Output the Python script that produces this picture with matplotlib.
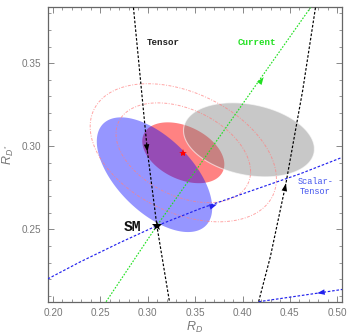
import numpy as np
import matplotlib.pyplot as plt

plt.rcParams['font.family'] = ['Liberation Sans', 'DejaVu Sans']
plt.rcParams['mathtext.fontset'] = 'custom'
plt.rcParams['mathtext.it'] = 'Liberation Sans:italic'
plt.rcParams['mathtext.rm'] = 'Liberation Sans'

# ellipses: centre RD, centre RD*, half width, half height, correlation
blue_ell = [0.3071, 0.2829, 0.0609, 0.0345, -0.58]
red_ell = [0.3375, 0.2961, 0.0433, 0.0183, -0.38]
gray_ell = [0.4068, 0.3039, 0.0691, 0.0223, -0.25]
contour_scales = [1.64, 2.27]

sm_point = (0.3096, 0.2522)
best_fit = (0.3374, 0.2962)

# NP trajectories
tensor_a_x = [0.2849, 0.2944, 0.2997, 0.3096, 0.3229]
tensor_a_y = [0.3834, 0.3276, 0.2966, 0.2522, 0.2065]
tensor_b_x = [0.4770, 0.4635, 0.4540, 0.4458, 0.4294, 0.4170]
tensor_b_y = [0.3834, 0.3336, 0.3036, 0.2776, 0.2336, 0.2065]
current_x = [0.2560, 0.3096, 0.4717]
current_y = [0.2065, 0.2522, 0.3834]
st_a_x = [0.1944, 0.2285, 0.2708, 0.3096, 0.3554, 0.4082, 0.4611, 0.5055]
st_a_y = [0.2202, 0.2304, 0.2421, 0.2522, 0.2625, 0.2730, 0.2835, 0.2934]
st_b_x = [0.4170, 0.4787, 0.5055]
st_b_y = [0.2065, 0.2116, 0.2139]

# arrows: curve, position, direction along point order
arrows = [
    ('current', 0.4223, 0.3416, 1),
    ('tensor_a', 0.2997, 0.2966, 1),
    ('tensor_b', 0.4458, 0.2776, -1),
    ('st_a', 0.3730, 0.2650, 1),
    ('st_b', 0.4787, 0.2116, -1),
]

c_black = 'black'
c_green = '#22e022'
c_blue = '#2222ee'
dash = (0, (2.2, 1.5))
curves = {
    'tensor_a': (tensor_a_x, tensor_a_y, c_black, dash),
    'tensor_b': (tensor_b_x, tensor_b_y, c_black, dash),
    'current': (current_x, current_y, c_green, (0, (1.4, 1.3))),
    'st_a': (st_a_x, st_a_y, c_blue, dash),
    'st_b': (st_b_x, st_b_y, c_blue, dash),
}


def ellipse(p, k=1.0):
    t = np.linspace(0, 2 * np.pi, 300)
    x0, y0, a, b, r = p
    x = x0 + k * a * np.cos(t)
    y = y0 + k * b * (r * np.cos(t) + np.sqrt(1 - r ** 2) * np.sin(t))
    return x, y


fig = plt.figure(figsize=(3.47, 3.34), dpi=100)
ax = fig.add_axes([0.1375, 0.0967, 0.8481, 0.8814])

x, y = ellipse(red_ell)
ax.fill(x, y, color=(1, 0, 0), alpha=0.49, lw=0, zorder=1)
x, y = ellipse(blue_ell)
ax.fill(x, y, color=(0, 0, 1), alpha=0.41, lw=0, zorder=2)
x, y = ellipse(gray_ell)
ax.fill(x, y, color=(0.5, 0.5, 0.5), alpha=0.43, lw=0, zorder=3)
ax.plot(x, y, color='white', lw=0.8, alpha=0.6, zorder=3)

for k in contour_scales:
    x, y = ellipse(red_ell, k)
    ax.plot(x, y, color='#ff8080', lw=0.7, alpha=0.7,
            ls=(0, (3, 1.5, 1, 1.5)), zorder=4)

for name, (cx, cy, col, ls) in curves.items():
    ax.plot(cx, cy, color=col, lw=0.85, ls=ls, zorder=5)

for name, ax_x, ax_y, sgn in arrows:
    cx, cy, col, ls = curves[name]
    cx = np.array(cx)
    cy = np.array(cy)
    d = np.hypot(cx - ax_x, cy - ax_y)
    i = min(np.argmin(d), len(cx) - 2)
    dx = (cx[i + 1] - cx[i]) * sgn
    dy = (cy[i + 1] - cy[i]) * sgn
    n = np.hypot(dx, dy)
    tail = (ax_x - 0.002 * dx / n, ax_y - 0.002 * dy / n)
    ax.annotate('', xy=(ax_x, ax_y), xytext=tail,
                arrowprops=dict(arrowstyle='-|>,head_length=0.55,head_width=0.2',
                                color=col, lw=0, shrinkA=0, shrinkB=0),
                zorder=6)

ax.plot(*sm_point, marker='*', color='black', ms=7, mew=0, zorder=7)
ax.plot(*best_fit, marker='*', color='red', ms=6, mew=0, zorder=7)

mono = ['Liberation Mono', 'DejaVu Sans Mono']
ax.text(0.3163, 0.3623, 'Tensor', family=mono, fontsize=6.6, weight='bold',
        color='#222222', ha='center', va='center')
ax.text(0.4154, 0.3623, 'Current', family=mono, fontsize=6.6, weight='bold',
        color=c_green, ha='center', va='center')
ax.text(0.4770, 0.2756, 'Scalar-\nTensor', family=mono, fontsize=6.2,
        color='#4455ee', ha='center', va='center', linespacing=1.1)
ax.text(0.2840, 0.2516, 'SM', family=mono, fontsize=10.5, weight='bold',
        color='#111111', ha='center', va='center')

ax.set_xlim(0.1944, 0.505)
ax.set_ylim(0.2065, 0.3836)
ax.set_xticks([0.20, 0.25, 0.30, 0.35, 0.40, 0.45, 0.50])
ax.set_yticks([0.25, 0.30, 0.35])
ax.set_xticks(np.arange(0.20, 0.505, 0.01), minor=True)
ax.set_yticks(np.arange(0.21, 0.384, 0.01), minor=True)
ax.set_xticklabels(['0.20', '0.25', '0.30', '0.35', '0.40', '0.45', '0.50'])
ax.set_yticklabels(['0.25', '0.30', '0.35'])

gray = '#777777'
ax.tick_params(which='both', direction='in', top=True, right=True,
               colors='#888888', labelcolor='#777777', labelsize=7.2)
ax.tick_params(which='major', length=4, width=0.7)
ax.tick_params(which='minor', length=2.2, width=0.6)
ax.tick_params(axis='x', pad=4.5)
ax.tick_params(axis='y', pad=5)
for s in ax.spines.values():
    s.set_color('#666666')
    s.set_linewidth(0.9)

ax.set_xlabel('$R_D$', fontsize=9, color=gray, labelpad=1.5)
ax.set_ylabel('$R_{D^*}$', fontsize=9, color=gray, labelpad=4)

fig.savefig('out.png', dpi=100)
